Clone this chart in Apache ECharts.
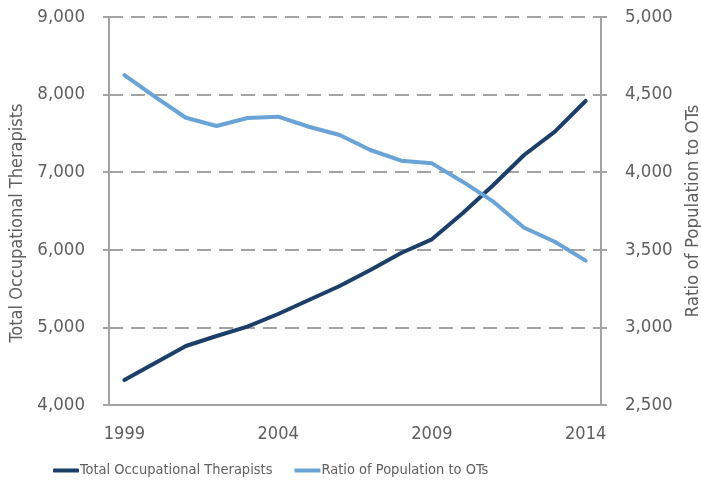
<!DOCTYPE html>
<html>
<head>
<meta charset="utf-8">
<script src="https://cdn.jsdelivr.net/npm/echarts@6/dist/echarts.min.js"></script>
<style>
  html, body { margin: 0; padding: 0; background: #fff; }
  #chart { width: 701px; height: 495px; }
</style>
</head>
<body>
<div id="chart"></div>
<script>
// years along the bottom
const years = ['1999', '2000', '2001', '2002', '2003', '2004', '2005', '2006',
  '2007', '2008', '2009', '2010', '2011', '2012', '2013', '2014']

// left axis series
const totalOTs = [4322, 4541, 4760, 4889, 5009, 5173, 5353, 5533,
  5740, 5959, 6135, 6470, 6835, 7222, 7522, 7918]

// right axis series
const ratioPopToOT = [4626, 4486, 4351, 4298, 4349, 4358, 4293, 4240,
  4143, 4074, 4057, 3939, 3810, 3642, 3552, 3430]

const FONT = '"Liberation Sans Narrow", "DejaVu Sans Condensed", sans-serif'
const TEXT = '#5f5f5f'
const AXIS = '#a3a3a3'

const chart = echarts.init(document.getElementById('chart'))

const fmt = v => v.toLocaleString('en-US')

chart.setOption({
  animation: false,
  textStyle: { fontFamily: FONT },
  grid: { left: 109, right: 100, top: 17, bottom: 90, outerBoundsMode: 'none' },
  legend: {
    top: 463,
    left: 53,
    padding: 0,
    itemWidth: 26,
    itemHeight: 4,
    itemGap: 22,
    icon: 'roundRect',
    textStyle: { fontFamily: FONT, fontSize: 14.5, color: TEXT, padding: [0, 0, 0, -4] },
    data: ['Total Occupational Therapists', 'Ratio of Population to OTs']
  },
  xAxis: {
    type: 'category',
    data: years,
    boundaryGap: true,
    axisLine: { lineStyle: { color: AXIS, width: 2 } },
    axisTick: { interval: 4, length: 8, lineStyle: { color: AXIS, width: 2 } },
    axisLabel: { interval: 4, color: TEXT, fontSize: 18, margin: 20, fontFamily: FONT }
  },
  yAxis: [
    {
      type: 'value',
      min: 4000,
      max: 9000,
      interval: 1000,
      name: 'Total Occupational Therapists',
      nameLocation: 'middle',
      nameGap: 72,
      nameTextStyle: { color: TEXT, fontSize: 18, fontFamily: FONT, padding: [0, 24, 0, 0] },
      axisLine: { show: true, lineStyle: { color: AXIS, width: 2 } },
      axisTick: { show: true, length: 6, lineStyle: { color: AXIS, width: 2 } },
      axisLabel: { color: TEXT, fontSize: 18.5, margin: 24, formatter: fmt, fontFamily: FONT },
      splitLine: { show: true, lineStyle: { color: AXIS, width: 2, type: [14, 8] } }
    },
    {
      type: 'value',
      min: 2500,
      max: 5000,
      interval: 500,
      name: 'Ratio of Population to OTs',
      nameLocation: 'middle',
      nameGap: 73,
      nameTextStyle: { color: TEXT, fontSize: 18.5, fontFamily: FONT },
      axisLine: { show: true, lineStyle: { color: AXIS, width: 2 } },
      axisTick: { show: true, length: 6, lineStyle: { color: AXIS, width: 2 } },
      axisLabel: { color: TEXT, fontSize: 18.5, margin: 24, formatter: fmt, fontFamily: FONT },
      splitLine: { show: false }
    }
  ],
  series: [
    {
      name: 'Total Occupational Therapists',
      type: 'line',
      yAxisIndex: 0,
      data: totalOTs,
      showSymbol: false,
      color: '#1b3f69',
      lineStyle: { width: 4, color: '#1b3f69', cap: 'round', join: 'round' }
    },
    {
      name: 'Ratio of Population to OTs',
      type: 'line',
      yAxisIndex: 1,
      data: ratioPopToOT,
      showSymbol: false,
      color: '#6aa3d5',
      lineStyle: { width: 4, color: '#6aa3d5', cap: 'round', join: 'round' }
    }
  ]
})
</script>
</body>
</html>
